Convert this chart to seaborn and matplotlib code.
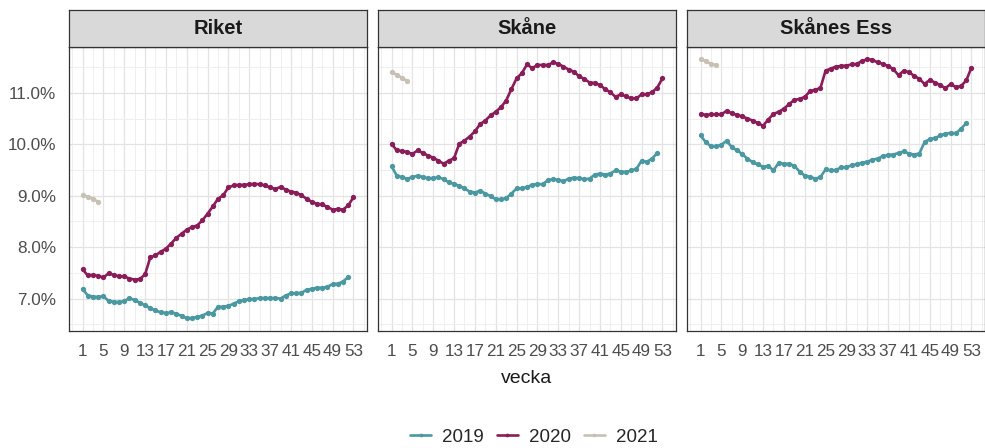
import numpy as np
import pandas as pd
import matplotlib
matplotlib.use("Agg")
import matplotlib.pyplot as plt
from matplotlib.lines import Line2D
from matplotlib.ticker import FixedLocator, FuncFormatter
import seaborn as sns

# ---------------- data ----------------
regions = ["Riket", "Skåne", "Skånes Ess"]
years = ["2019", "2020", "2021"]
week_ticks = [1, 5, 9, 13, 17, 21, 25, 29, 33, 37, 41, 45, 49, 53]
y_ticks = [7.0, 8.0, 9.0, 10.0, 11.0]

riket_2019 = [7.19, 7.06, 7.04, 7.03, 7.05, 6.95, 6.94, 6.93, 6.95, 7.01,
              6.97, 6.92, 6.87, 6.81, 6.77, 6.73, 6.72, 6.73, 6.71, 6.66,
              6.62, 6.62, 6.64, 6.67, 6.72, 6.71, 6.84, 6.84, 6.86, 6.90,
              6.95, 6.97, 6.99, 6.99, 7.01, 7.01, 7.01, 7.01, 7.00, 7.06,
              7.10, 7.10, 7.11, 7.17, 7.19, 7.21, 7.21, 7.23, 7.28, 7.29,
              7.33, 7.42]
riket_2020 = [7.57, 7.45, 7.46, 7.44, 7.41, 7.49, 7.46, 7.43, 7.43, 7.39,
              7.37, 7.38, 7.47, 7.80, 7.84, 7.91, 7.97, 8.07, 8.18, 8.26,
              8.34, 8.39, 8.42, 8.52, 8.65, 8.79, 8.94, 9.01, 9.16, 9.20,
              9.21, 9.21, 9.22, 9.23, 9.22, 9.20, 9.16, 9.13, 9.17, 9.12,
              9.08, 9.06, 9.01, 8.94, 8.88, 8.84, 8.83, 8.78, 8.73, 8.74,
              8.73, 8.81, 8.97]
riket_2021 = [9.01, 8.98, 8.94, 8.88]

skane_2019 = [9.57, 9.39, 9.36, 9.33, 9.36, 9.39, 9.36, 9.34, 9.34, 9.36,
              9.32, 9.26, 9.23, 9.19, 9.14, 9.08, 9.06, 9.10, 9.04, 8.99,
              8.93, 8.93, 8.95, 9.04, 9.14, 9.14, 9.17, 9.21, 9.23, 9.22,
              9.30, 9.32, 9.31, 9.28, 9.33, 9.35, 9.34, 9.32, 9.33, 9.41,
              9.43, 9.41, 9.43, 9.49, 9.47, 9.46, 9.49, 9.52, 9.68, 9.66,
              9.72, 9.83]
skane_2020 = [10.01, 9.88, 9.87, 9.85, 9.81, 9.88, 9.83, 9.78, 9.74, 9.68,
              9.62, 9.68, 9.73, 10.01, 10.07, 10.15, 10.25, 10.39, 10.46, 10.56,
              10.63, 10.72, 10.85, 11.07, 11.28, 11.38, 11.55, 11.48, 11.54, 11.54,
              11.54, 11.59, 11.56, 11.51, 11.45, 11.41, 11.32, 11.27, 11.20, 11.19,
              11.15, 11.07, 11.01, 10.92, 10.97, 10.93, 10.89, 10.89, 10.97, 10.97,
              11.01, 11.10, 11.28]
skane_2021 = [11.40, 11.35, 11.29, 11.23]

ess_2019 = [10.17, 10.04, 9.96, 9.96, 9.99, 10.07, 9.94, 9.88, 9.81, 9.72,
            9.65, 9.61, 9.56, 9.58, 9.49, 9.64, 9.62, 9.62, 9.58, 9.47,
            9.39, 9.37, 9.33, 9.36, 9.51, 9.49, 9.50, 9.55, 9.55, 9.59,
            9.61, 9.64, 9.66, 9.70, 9.72, 9.77, 9.79, 9.80, 9.83, 9.86,
            9.82, 9.80, 9.82, 10.04, 10.10, 10.12, 10.17, 10.20, 10.22, 10.21,
            10.30, 10.41]
ess_2020 = [10.59, 10.57, 10.58, 10.58, 10.58, 10.65, 10.60, 10.57, 10.54, 10.50,
            10.46, 10.41, 10.36, 10.48, 10.59, 10.63, 10.69, 10.78, 10.86, 10.88,
            10.92, 11.03, 11.06, 11.09, 11.43, 11.47, 11.51, 11.52, 11.53, 11.55,
            11.56, 11.62, 11.65, 11.64, 11.59, 11.56, 11.52, 11.46, 11.34, 11.43,
            11.40, 11.33, 11.27, 11.17, 11.25, 11.20, 11.15, 11.09, 11.17, 11.11,
            11.13, 11.24, 11.49]
ess_2021 = [11.65, 11.62, 11.56, 11.54]

series = {
    "Riket": {"2019": riket_2019, "2020": riket_2020, "2021": riket_2021},
    "Skåne": {"2019": skane_2019, "2020": skane_2020, "2021": skane_2021},
    "Skånes Ess": {"2019": ess_2019, "2020": ess_2020, "2021": ess_2021},
}

rows = []
for reg, d in series.items():
    for yr, vals in d.items():
        for i, v in enumerate(vals):
            rows.append({"region": reg, "year": yr, "vecka": i + 1, "value": v})
df = pd.DataFrame(rows)

palette = {"2019": "#4A98A2", "2020": "#8A1C5A", "2021": "#C6C1B2"}

# ---------------- style ----------------
sns.set_theme(style="white")
plt.rcParams["font.family"] = ["Liberation Sans", "DejaVu Sans"]

W, H = 985, 448
fig = plt.figure(figsize=(W / 100, H / 100), dpi=100)

ax_w = 298
lefts = [69, 378, 687]
ax_top, ax_bot = 47, 331
strip_top = 10

border = "#333333"
lw = 1.9
ms = 3.8
for reg, lx in zip(regions, lefts):
    ax = fig.add_axes([lx / W, 1 - ax_bot / H, ax_w / W, (ax_bot - ax_top) / H])
    sub = df[df["region"] == reg]
    sns.lineplot(data=sub, x="vecka", y="value", hue="year", palette=palette,
                 hue_order=years, marker="o", markersize=ms, markeredgewidth=0,
                 linewidth=lw, legend=False, ax=ax, zorder=3)
    ax.set_xlim(-1.6, 55.6)
    ax.set_ylim(6.37, 11.89)
    ax.xaxis.set_major_locator(FixedLocator(week_ticks))
    ax.xaxis.set_minor_locator(FixedLocator([-1] + [w + 2 for w in week_ticks]))
    ax.yaxis.set_major_locator(FixedLocator(y_ticks))
    ax.yaxis.set_minor_locator(FixedLocator([6.5 + i for i in range(6)]))
    ax.yaxis.set_major_formatter(FuncFormatter(lambda v, p: f"{v:.1f}%"))
    ax.grid(which="major", color="#E3E3E3", linewidth=0.9, zorder=0)
    ax.grid(which="minor", color="#EDEDED", linewidth=0.6, zorder=0)
    ax.set_axisbelow(True)
    ax.tick_params(axis="both", which="major", length=3, width=0.8, color=border,
                   labelsize=12.3, labelcolor="#4D4D4D", pad=6, direction="out")
    ax.tick_params(axis="x", which="major", pad=6)
    ax.tick_params(axis="both", which="minor", length=0)
    ax.set_xlabel("")
    ax.set_ylabel("")
    for s in ax.spines.values():
        s.set_color(border)
        s.set_linewidth(0.9)
    if lx != lefts[0]:
        ax.tick_params(axis="y", which="major", labelleft=False, length=0)
    # strip
    sax = fig.add_axes([lx / W, 1 - ax_top / H, ax_w / W, (ax_top - strip_top) / H])
    sax.set_facecolor("#D9D9D9")
    sax.set_xticks([])
    sax.set_yticks([])
    for s in sax.spines.values():
        s.set_color(border)
        s.set_linewidth(0.9)
    sax.text(0.5, 0.5, reg, ha="center", va="center", fontsize=14.5,
             fontweight="bold", color="#1A1A1A", transform=sax.transAxes)

fig.text((lefts[1] + ax_w / 2) / W, 1 - 378 / H, "vecka", ha="center", va="center",
         fontsize=14, color="#1A1A1A")

handles = [Line2D([0], [0], color=palette[y], linewidth=lw, marker="o",
                  markersize=ms, markeredgewidth=0) for y in years]
fig.legend(handles, years, loc="center", bbox_to_anchor=(534 / W, 1 - 437 / H),
           ncol=3, frameon=False, fontsize=13.5, handlelength=1.1,
           handletextpad=0.6, columnspacing=0.7, markerscale=0.7)

fig.savefig("out.png", dpi=100)
